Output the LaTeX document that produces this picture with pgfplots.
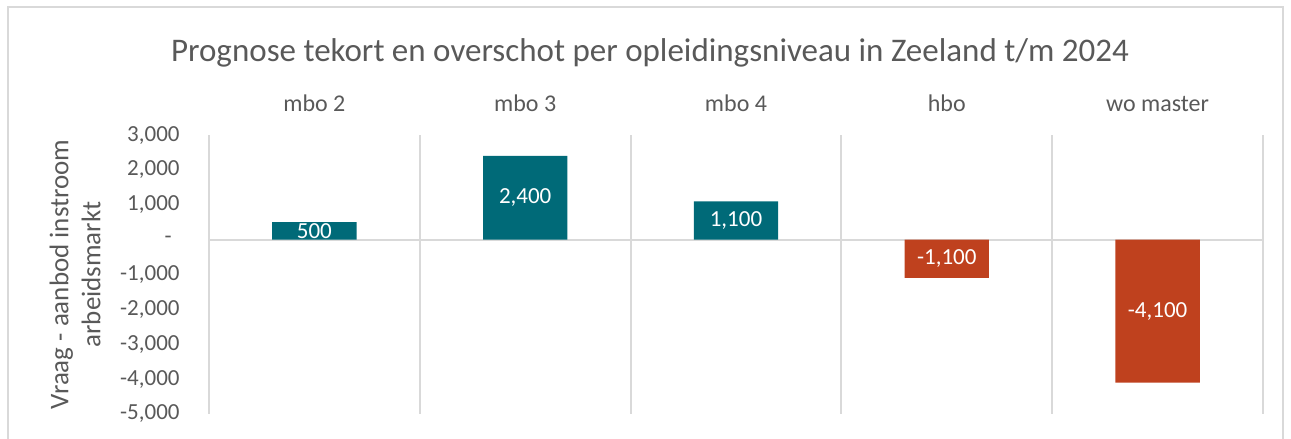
\documentclass[border=0pt]{standalone}
\usepackage{fontspec}
\setmainfont{Carlito}
\usepackage{pgfplots}
\pgfplotsset{compat=1.18}
\definecolor{barpos}{HTML}{006A78}
\definecolor{barneg}{HTML}{BF411E}
\definecolor{txtgray}{HTML}{595959}
\definecolor{gridgray}{HTML}{D9D9D9}
\begin{document}
\begin{tikzpicture}
\path[use as bounding box] (-104.5pt,-12.5pt) rectangle (541pt,207pt);
\draw[gridgray, line width=1pt] (-100.5pt,-20pt) -- (-100.5pt,203.5pt) -- (537pt,203.5pt) -- (537pt,-20pt);
\begin{axis}[
  at={(0pt,0pt)}, anchor=south west,
  scale only axis, width=527pt, height=139.5pt,
  xmin=-0.5, xmax=4.5, ymin=-5000, ymax=3000,
  axis line style={draw=none},
  major tick length=0pt, minor tick length=0pt,
  xtick={0,...,4},
  xticklabels={mbo 2, mbo 3, mbo 4, hbo, wo master},
  xticklabel pos=right,
  xticklabel style={font=\fontsize{12pt}{14pt}\selectfont, text=txtgray, anchor=base, yshift=12pt},
  minor xtick={-0.5,0.5,...,4.5},
  xminorgrids,
  minor x grid style={gridgray, line width=1pt},
  ytick={-5000,-4000,...,3000},
  yticklabels={{-5,000},{-4,000},{-3,000},{-2,000},{-1,000},{-\kern4pt},{1,000},{2,000},{3,000}},
  yticklabel style={font=\fontsize{11.5pt}{13pt}\selectfont, text=txtgray, anchor=east, inner sep=0pt, xshift=-14.5pt},
  extra y ticks={0},
  extra y tick labels={},
  extra y tick style={grid=major, major grid style={gridgray, line width=1pt}},
  clip=false,
]
\addplot[ybar, bar width=0.4, bar shift=0pt, fill=barpos, draw=none,
  nodes near coords, point meta=explicit symbolic,
  visualization depends on={y \as \rawy},
  every node near coord/.append style={anchor=center, text=white, font=\fontsize{11.5pt}{13pt}\selectfont, shift={(axis direction cs:0,-\rawy/2)}}]
  coordinates {(0,500) [500] (1,2400) [{2,400}] (2,1100) [{1,100}]};
\addplot[ybar, bar width=0.4, bar shift=0pt, fill=barneg, draw=none,
  nodes near coords, point meta=explicit symbolic,
  visualization depends on={y \as \rawy},
  every node near coord/.append style={anchor=center, text=white, font=\fontsize{11.5pt}{13pt}\selectfont, shift={(axis direction cs:0,-\rawy/2)}}]
  coordinates {(3,-1100) [{-1,100}] (4,-4100) [{-4,100}]};
\end{axis}
\node[text=txtgray, font=\fontsize{16.5pt}{20pt}\selectfont] at (220.5pt,180.5pt) {Prognose tekort en overschot per opleidingsniveau in Zeeland t/m 2024};
\node[text=txtgray, font=\fontsize{13.5pt}{16pt}\selectfont, rotate=90, align=center] at (-67pt,69.75pt) {Vraag - aanbod instroom\\arbeidsmarkt};
\end{tikzpicture}
\end{document}
